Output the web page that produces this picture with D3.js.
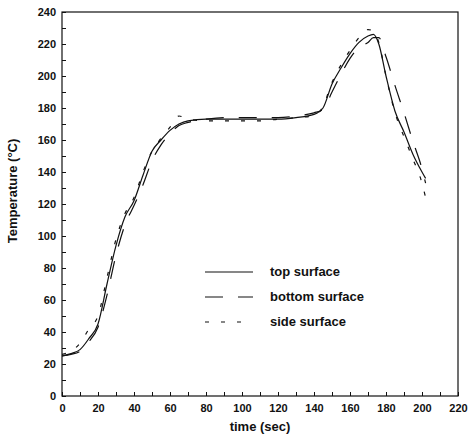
<!DOCTYPE html>
<html>
<head>
<meta charset="utf-8">
<script src="https://cdn.jsdelivr.net/npm/d3@7"></script>
<style>
  body { margin: 0; background: #fff; }
  svg text { font-family: "Liberation Sans", Arial, sans-serif; fill: #111; }
</style>
</head>
<body>
<svg id="chart" width="469" height="437"></svg>
<script>
// time samples (sec)
var times = [0, 5, 10, 15, 20, 25, 30, 35, 40, 45, 50, 55, 60, 65, 70, 80, 90, 100, 110, 120, 130, 140, 145, 150, 155, 160, 165, 170, 173, 176, 180, 185, 190, 195, 200, 202];

// temperatures (C)
var topSurface    = [25, 26.5, 29, 36, 45, 70, 94, 112, 122, 138, 153, 160, 166, 170, 172, 173, 173, 173, 173, 173, 174, 176, 180, 195, 205, 214, 221, 225, 226, 220, 200, 178, 165, 151, 140, 136];
var bottomSurface = [25, 26, 28, 34, 43, 63, 88, 107, 119, 132, 147, 157, 164, 169, 171, 173, 174, 174, 174, 174, 175, 177, 179, 190, 201, 211, 218, 221, 224, 224, 212, 194, 177, 159, 142, 133];
var sideSurface   = [26, 28, 33, 42, 50, 74, 98, 114, 124, 140, 153, 161, 168, 175, 173, 172, 172, 172, 172, 173, 174, 175, 181, 196, 207, 216, 224, 229, 228, 221, 200, 177, 162, 148, 133, 124];

var seriesNames = ["top surface", "bottom surface", "side surface"];
var seriesDash = ["none", "18,15", "4,12"];
var xTicks = d3.range(0, 221, 10);
var yTicks = d3.range(0, 241, 10);

var svg = d3.select("#chart"),
    padL = 62, padR = 458, padT = 12, padB = 396;

var x = d3.scaleLinear().domain([0, 220]).range([padL, padR]);
var y = d3.scaleLinear().domain([0, 240]).range([padB, padT]);

// frame
svg.append("rect")
    .attr("x", padL).attr("y", padT)
    .attr("width", padR - padL).attr("height", padB - padT)
    .attr("fill", "none").attr("stroke", "#111").attr("stroke-width", 1.2);

var xAxis = svg.append("g")
    .attr("transform", "translate(0," + padB + ")")
    .call(d3.axisBottom(x).tickValues(xTicks).tickSizeInner(-4).tickSizeOuter(0).tickPadding(8)
        .tickFormat(function(d) { return d % 20 === 0 ? d : ""; }));
var yAxis = svg.append("g")
    .attr("transform", "translate(" + padL + ",0)")
    .call(d3.axisLeft(y).tickValues(yTicks).tickSizeInner(-4).tickSizeOuter(0).tickPadding(6)
        .tickFormat(function(d) { return d % 20 === 0 ? d : ""; }));

[xAxis, yAxis].forEach(function(a) {
    a.select(".domain").remove();
    a.selectAll("line").attr("stroke", "#111");
    a.selectAll("text").style("font-size", "11px").style("font-weight", "bold")
        .style("font-family", "Liberation Sans, Arial, sans-serif").attr("fill", "#111");
});

svg.append("text")
    .attr("x", 260).attr("y", 431)
    .attr("text-anchor", "middle")
    .style("font-size", "13px").style("font-weight", "bold")
    .text("time (sec)");

svg.append("text")
    .attr("transform", "translate(17,191) rotate(-90)")
    .attr("text-anchor", "middle")
    .style("font-size", "13px").style("font-weight", "bold")
    .text("Temperature (°C)");

var line = d3.line()
    .x(function(d) { return x(d[0]); })
    .y(function(d) { return y(d[1]); })
    .curve(d3.curveMonotoneX);

var allSeries = [topSurface, bottomSurface, sideSurface];
allSeries.forEach(function(vals, i) {
    svg.append("path")
        .datum(times.map(function(t, j) { return [t, vals[j]]; }))
        .attr("fill", "none")
        .attr("stroke", "#111")
        .attr("stroke-width", 1.2)
        .attr("stroke-dasharray", seriesDash[i])
        .attr("d", line);
});

// legend
var legend = svg.append("g");
seriesNames.forEach(function(name, i) {
    var ly = 272 + i * 25;
    legend.append("line")
        .attr("x1", 205).attr("x2", 253)
        .attr("y1", ly).attr("y2", ly)
        .attr("stroke", "#111").attr("stroke-width", 1.2)
        .attr("stroke-dasharray", seriesDash[i]);
    legend.append("text")
        .attr("x", 270).attr("y", ly + 4)
        .style("font-size", "13px").style("font-weight", "bold")
        .text(name);
});
</script>
</body>
</html>
